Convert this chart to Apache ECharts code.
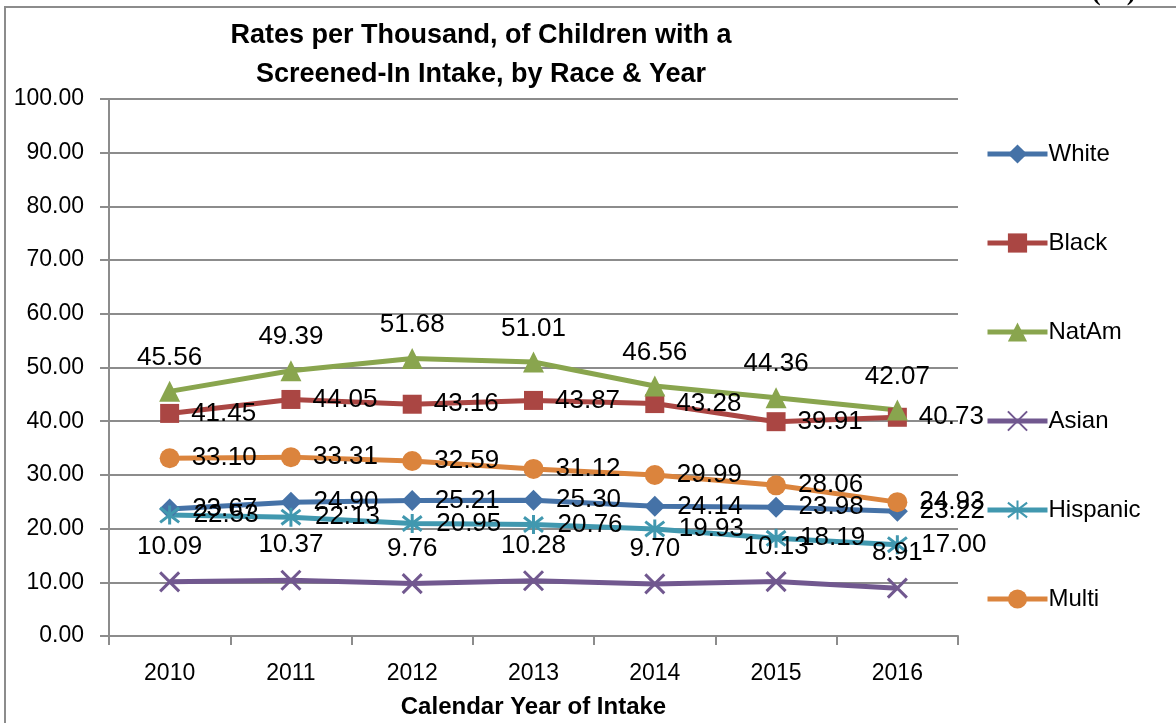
<!DOCTYPE html>
<html>
<head>
<meta charset="utf-8">
<style>
  html, body { margin: 0; padding: 0; background: #fff; }
  #chart { width: 1176px; height: 723px; }
</style>
<script src="https://cdn.jsdelivr.net/npm/echarts@6/dist/echarts.min.js"></script>
</head>
<body>
<div id="chart"></div>
<script>
// Calendar years on the x axis
const years = ['2010', '2011', '2012', '2013', '2014', '2015', '2016'];

// Rates per thousand children with a screened-in intake
const white    = [23.67, 24.90, 25.21, 25.30, 24.14, 23.98, 23.22];
const black    = [41.45, 44.05, 43.16, 43.87, 43.28, 39.91, 40.73];
const natAm    = [45.56, 49.39, 51.68, 51.01, 46.56, 44.36, 42.07];
const asian    = [10.09, 10.37, 9.76, 10.28, 9.70, 10.13, 8.91];
const hispanic = [22.53, 22.13, 20.95, 20.76, 19.93, 18.19, 17.00];
const multi    = [33.10, 33.31, 32.59, 31.12, 29.99, 28.06, 24.93];

const FONT = '"Liberation Sans", Arial, sans-serif';

const crossPath = 'path://M0,0L10,10M10,0L0,10';
const starPath = 'path://M0,0L10,10M10,0L0,10M5,-1.5L5,11.5';

function makeSeries(name, data, color, symbol, size, labelPos, extra) {
  const s = {
    name: name,
    type: 'line',
    data: data,
    symbol: symbol,
    symbolSize: size,
    lineStyle: { width: 5, color: color },
    itemStyle: { color: color },
    label: {
      show: true,
      position: labelPos,
      distance: labelPos === 'top' ? 10 : 12,
      color: '#000',
      fontFamily: FONT,
      fontSize: 26,
      formatter: p => p.value.toFixed(2)
    },
    emphasis: { disabled: true },
    animation: false,
    z: 2
  };
  return Object.assign(s, extra || {});
}

const chart = echarts.init(document.getElementById('chart'), null, { renderer: 'canvas' });

chart.setOption({
  backgroundColor: '#fff',
  animation: false,
  title: {
    text: 'Rates per Thousand, of Children with a\nScreened-In Intake, by Race & Year',
    left: 476,
    textAlign: 'center',
    top: 11,
    textStyle: {
      fontFamily: FONT,
      fontWeight: 'bold',
      fontSize: 27,
      lineHeight: 39,
      color: '#000'
    }
  },
  graphic: [
    {
      type: 'rect',
      shape: { x: 5, y: 7, width: 1190, height: 740 },
      style: { fill: 'none', stroke: '#8c8c8c', lineWidth: 2 },
      silent: true
    },
    {
      type: 'text',
      left: 1092,
      top: -20,
      style: {
        text: '(%)',
        font: 'bold 26px "Liberation Serif", serif',
        fill: '#000'
      },
      silent: true
    }
  ],
  legend: {
    orient: 'vertical',
    left: 980,
    top: 136,
    itemWidth: 60,
    itemHeight: 24,
    itemGap: 63,
    lineStyle: { width: 5 },
    textStyle: {
      fontFamily: FONT,
      fontSize: 24,
      lineHeight: 26,
      color: '#000',
      padding: [0, 0, 0, -4]
    },
    data: ['White', 'Black', 'NatAm', 'Asian', 'Hispanic', 'Multi']
  },
  grid: {
    left: 109,
    right: 218,
    top: 99,
    bottom: 87,
    containLabel: false,
    outerBoundsMode: 'none'
  },
  xAxis: {
    type: 'category',
    data: years,
    boundaryGap: true,
    name: 'Calendar Year of Intake',
    nameLocation: 'middle',
    nameGap: 59,
    nameTextStyle: {
      fontFamily: FONT,
      fontWeight: 'bold',
      fontSize: 24,
      color: '#000'
    },
    axisLine: { lineStyle: { color: '#8c8c8c', width: 2 } },
    axisTick: { show: true, length: 9, inside: false, alignWithLabel: false, lineStyle: { color: '#8c8c8c', width: 2 } },
    axisLabel: {
      margin: 26,
      fontFamily: FONT,
      fontSize: 23,
      color: '#000'
    },
    splitLine: { show: false }
  },
  yAxis: {
    type: 'value',
    min: 0,
    max: 100,
    interval: 10,
    axisLine: { show: true, lineStyle: { color: '#8c8c8c', width: 2 } },
    axisTick: { show: true, length: 9, lineStyle: { color: '#8c8c8c', width: 2 } },
    axisLabel: {
      margin: 25,
      fontFamily: FONT,
      fontSize: 23,
      color: '#000',
      formatter: v => v.toFixed(2)
    },
    splitLine: { show: true, lineStyle: { color: '#8c8c8c', width: 2 } }
  },
  series: [
    makeSeries('White', white, '#4572A7', 'diamond', 21, 'right'),
    makeSeries('Black', black, '#AA4643', 'rect', 19, 'right'),
    makeSeries('NatAm', natAm, '#89A54E', 'triangle', 21, 'top'),
    makeSeries('Asian', asian, '#71588F', crossPath, 19, 'top', {
      itemStyle: { color: 'none', borderColor: '#71588F', borderWidth: 3 }
    }),
    makeSeries('Hispanic', hispanic, '#4198AF', starPath, 19, 'right', {
      itemStyle: { color: 'none', borderColor: '#4198AF', borderWidth: 3 }
    }),
    makeSeries('Multi', multi, '#DB843D', 'circle', 20, 'right')
  ]
});
</script>
</body>
</html>
